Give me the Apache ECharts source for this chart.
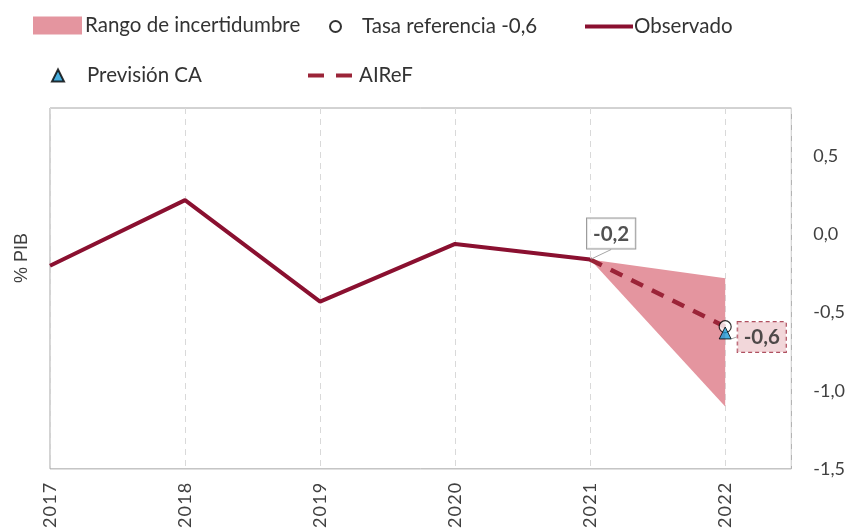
<!DOCTYPE html>
<html>
<head>
<meta charset="utf-8">
<script src="https://cdn.jsdelivr.net/npm/echarts@6/dist/echarts.min.js"></script>
<style>
  html, body { margin: 0; padding: 0; background: #fff; }
  #chart { width: 848px; height: 531px; }
</style>
</head>
<body>
<div id="chart"></div>
<script>
// data
const years = [2017, 2018, 2019, 2020, 2021, 2022];
const observado = [-0.2, 0.22, -0.43, -0.06, -0.16];
const airefYears = [2021, 2022];
const airef = [-0.16, -0.59];
const bandYears = [2021, 2022];
const bandUpper = [-0.16, -0.28];
const bandLower = [-0.16, -1.10];
const tasaRef = [[2022, -0.59]];
const prevCA = [[2022, -0.63]];
const yTicks = [-1.5, -1.0, -0.5, 0.0, 0.5];

const RED = '#8a1030';
const RED_DASH = '#9b2438';
const BAND = '#e4959f';
const FONT = 'Lato';

let myChart = echarts.init(document.getElementById('chart'));

const fmtNum = v => v.toFixed(1).replace('.', ',');
const legendText = { fontFamily: FONT, fontSize: 20.5, color: '#333333' };

let option = {
    animation: false,
    grid: {
        left: 50, right: 56, top: 108, bottom: 57,
        show: true, borderColor: '#a6a6a6', borderWidth: 1
    },
    legend: [
        { data: [{ name: 'Rango de incertidumbre', icon: 'rect', itemStyle: { color: BAND } }],
          left: 33, top: 15, padding: 0, itemWidth: 49, itemHeight: 18,
          textStyle: Object.assign({ padding: [0, 0, 0, -2] }, legendText) },
        { data: ['Tasa referencia -0,6'], left: 329, top: 16, padding: 0, itemWidth: 11, itemHeight: 11,
          textStyle: Object.assign({ padding: [0, 0, 0, 16] }, legendText) },
        { data: [{ name: 'Observado', icon: 'rect', itemStyle: { color: RED } }],
          left: 585, top: 16, padding: 0, itemWidth: 48, itemHeight: 4,
          textStyle: Object.assign({ padding: [0, 0, 0, -4] }, legendText) },
        { data: ['Previsión CA'], left: 51, top: 65, padding: 0, itemWidth: 12, itemHeight: 12,
          textStyle: Object.assign({ padding: [0, 0, 0, 18] }, legendText) },
        { data: [{ name: 'AIReF', icon: 'path://M0,0h16v4h-16zM28,0h16v4h-16z', itemStyle: { color: RED_DASH } }],
          left: 308, top: 65, padding: 0, itemWidth: 46, itemHeight: 4,
          textStyle: Object.assign({ padding: [0, 0, 0, 1] }, legendText) }
    ],
    graphic: [{
        type: 'text', x: 22, y: 258, rotation: Math.PI / 2,
        style: { text: '% PIB', font: '18px "Liberation Sans"', fill: '#404040',
                 align: 'center', verticalAlign: 'middle' }
    }],
    xAxis: {
        type: 'value', min: years[0], max: 2022.49, interval: 1,
        axisLine: { show: false }, axisTick: { show: false },
        splitLine: { show: true, lineStyle: { color: '#d9d9d9', type: [6, 5] } },
        axisLabel: {
            rotate: 90, margin: 14, showMaxLabel: false,
            fontFamily: FONT, fontSize: 18, color: '#404040',
            formatter: v => (years.includes(v) ? String(v).split('').join('\u200a') : '')
        }
    },
    yAxis: {
        type: 'value', position: 'right', min: yTicks[0], max: 0.81, interval: 0.5,
        axisLine: { show: false }, axisTick: { show: false }, splitLine: { show: false },
        axisLabel: {
            margin: 22, showMaxLabel: false,
            fontFamily: FONT, fontSize: 18, color: '#404040',
            formatter: v => (yTicks.some(t => Math.abs(t - v) < 1e-6) ? fmtNum(v) : '')
        }
    },
    series: [
        {
            name: 'Rango de incertidumbre',
            type: 'custom',
            itemStyle: { color: BAND },
            data: [[bandYears[0], bandUpper[0]]],
            renderItem: function (params, api) {
                const pts = [];
                for (let i = 0; i < bandYears.length; i++) pts.push(api.coord([bandYears[i], bandUpper[i]]));
                for (let i = bandYears.length - 1; i >= 0; i--) pts.push(api.coord([bandYears[i], bandLower[i]]));
                return { type: 'polygon', shape: { points: pts }, style: { fill: BAND } };
            },
            z: 1
        },
        {
            name: 'Observado',
            type: 'line',
            data: observado.map((v, i) => [years[i], v]),
            symbol: 'none',
            lineStyle: { color: RED, width: 4 },
            itemStyle: { color: RED },
            z: 3
        },
        {
            // label of the last observed value
            name: 'obs-label',
            type: 'scatter',
            data: [[years[observado.length - 1], observado[observado.length - 1]]],
            symbolSize: 2,
            itemStyle: { color: RED },
            label: {
                show: true, position: 'top', distance: 5,
                formatter: p => fmtNum(p.value[1]),
                fontFamily: FONT, fontSize: 20.5, fontWeight: 'bold', color: '#262626',
                backgroundColor: '#fff', borderColor: '#7f7f7f', borderWidth: 1, padding: [5, 6, 4, 6]
            },
            labelLine: { show: true, lineStyle: { color: '#a6a6a6', width: 1 } },
            labelLayout: { dx: 21, dy: -5 },
            z: 4
        },
        {
            name: 'AIReF',
            type: 'line',
            data: airef.map((v, i) => [airefYears[i], v]),
            symbol: 'none',
            lineStyle: { color: RED_DASH, width: 4.5, type: [13, 10] },
            itemStyle: { color: RED_DASH },
            z: 3
        },
        {
            name: 'Tasa referencia -0,6',
            type: 'scatter',
            data: tasaRef,
            symbol: 'circle', symbolSize: 12,
            itemStyle: { color: '#fff', borderColor: '#000', borderWidth: 1.2 },
            z: 4
        },
        {
            name: 'Previsión CA',
            type: 'scatter',
            data: prevCA,
            symbol: 'triangle', symbolSize: 12,
            itemStyle: { color: '#1a9ad6', borderColor: '#000', borderWidth: 1 },
            label: {
                show: true, position: 'right', distance: 6,
                formatter: p => fmtNum(airef[airef.length - 1]),
                fontFamily: FONT, fontSize: 20.5, fontWeight: 'bold', color: '#262626',
                backgroundColor: '#efcdd1', borderColor: RED_DASH, borderWidth: 1,
                borderType: [4, 3], padding: [5, 6, 4, 6]
            },
            labelLine: { show: true, lineStyle: { color: '#a6a6a6', width: 1 } },
            labelLayout: { dy: 4 },
            z: 5
        }
    ]
};

myChart.setOption(option);
</script>
</body>
</html>
